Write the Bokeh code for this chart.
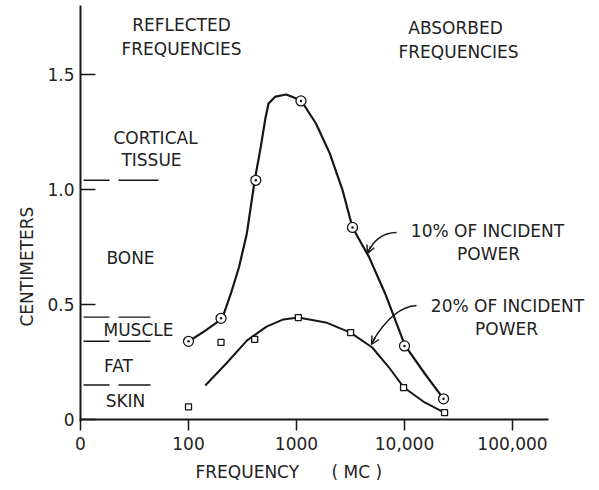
import numpy as np
from bokeh.plotting import figure
from bokeh.models import (Range1d, FixedTicker, CustomJSTickFormatter, Label,
                          Arrow, OpenHead, Title)
from bokeh.embed import file_html
from bokeh.resources import INLINE

# ---------------- data ----------------
# 10 % of incident power: measured points (circles) and drawn curve
freq_10_pts = [100, 200, 420, 1100, 3300, 10000, 23000]
cm_10_pts = [0.34, 0.44, 1.04, 1.385, 0.835, 0.32, 0.09]
freq_10_curve = [100, 140, 205, 247, 293, 347, 410, 466, 517, 551, 639, 805,
                 1104, 1514, 2033, 2674, 3300, 4722, 6617, 10090, 15380, 22900]
cm_10_curve = [0.339, 0.383, 0.439, 0.548, 0.661, 0.809, 1.039, 1.183, 1.313,
               1.374, 1.404, 1.413, 1.387, 1.287, 1.157, 0.996, 0.835, 0.704,
               0.548, 0.322, 0.200, 0.091]

# 20 % of incident power: measured points (squares) and drawn curve
freq_20_pts = [100, 200, 410, 1040, 3170, 9800, 23500]
cm_20_pts = [0.055, 0.335, 0.348, 0.443, 0.378, 0.139, 0.03]
freq_20_curve = [143, 228, 347, 528, 756, 1038, 1870, 3163, 5030, 7200, 9880,
                 15380, 23400]
cm_20_curve = [0.148, 0.248, 0.343, 0.404, 0.435, 0.443, 0.422, 0.378, 0.313,
               0.226, 0.139, 0.074, 0.03]

# tissue boundary levels (cm)
boundary_levels = [1.04, 0.445, 0.34, 0.15]

x_tick_values = [10, 100, 1000, 10000, 100000]
x_tick_labels = ["0", "100", "1000", "10,000", "100,000"]
y_tick_values = [0, 0.5, 1.0, 1.5]
y_tick_labels = ["0", "0.5", "1.0", "1.5"]

# ---------------- layout helpers (pixel -> data) ----------------
def X(px):
    return 10 ** (1 + (px - 80) / 108.0)

def Y(py):
    return (419 - py) / 230.0

INK = "#161616"
TXT = "#222222"
FONT = "DejaVu Sans"
FS = "17px"
NB = "\u00a0"

W, H = 591, 488
p = figure(width=W, height=H, x_axis_type="log",
           x_range=Range1d(X(80), X(W)), y_range=Range1d(Y(421), Y(5)),
           output_backend="svg", toolbar_location=None,
           min_border_left=80, min_border_right=0,
           min_border_top=5, min_border_bottom=H - 421)
p.outline_line_color = None
p.grid.visible = False
p.background_fill_color = "white"

JS = ("const i = vals.findIndex(v => Math.abs(v - tick) < 1e-6 * Math.max(1, Math.abs(v)));"
      " return i >= 0 ? labs[i] : '';")

for ax in (p.xaxis[0], p.yaxis[0]):
    ax.axis_line_width = 2
    ax.axis_line_color = INK
    ax.major_tick_line_width = 1.5
    ax.major_tick_line_color = INK
    ax.minor_tick_line_color = None
    ax.major_label_text_font = FONT
    ax.major_label_text_font_size = FS
    ax.major_label_text_color = TXT

p.xaxis.ticker = FixedTicker(ticks=x_tick_values, minor_ticks=[])
p.xaxis.formatter = CustomJSTickFormatter(
    args=dict(vals=x_tick_values, labs=x_tick_labels), code=JS)
p.xaxis.axis_line_color = None          # the drawn axis line stops at 548 px
p.xaxis.major_tick_in = 2
p.xaxis.major_tick_out = 9
p.xaxis.major_label_standoff = 6

p.yaxis.ticker = FixedTicker(ticks=y_tick_values, minor_ticks=[])
p.yaxis.formatter = CustomJSTickFormatter(
    args=dict(vals=y_tick_values, labs=y_tick_labels), code=JS)
p.yaxis.major_tick_in = 15
p.yaxis.major_tick_out = 0
p.yaxis.major_label_standoff = 6

# x axis line (ends short of the frame's right edge, as in the original)
p.segment(x0=[X(80)], y0=[0], x1=[X(548)], y1=[0], line_color=INK, line_width=2)

# axis titles
p.add_layout(Title(text="FREQUENCY" + NB * 6 + "(" + NB + "MC" + NB + ")",
                   align="left", offset=115,
                   text_font=FONT, text_font_size=FS, text_font_style="normal",
                   text_color=TXT, standoff=14), "below")
p.add_layout(Title(text="CENTIMETERS", align="left", offset=95,
                   text_font=FONT, text_font_size=FS, text_font_style="normal",
                   text_color=TXT, standoff=15), "left")

# tissue boundary dashes
for lvl in boundary_levels:
    right_end = 158 if lvl > 1 else 150
    p.segment(x0=[X(83), X(118)], y0=[lvl, lvl], x1=[X(109), X(right_end)],
              y1=[lvl, lvl], line_color=INK, line_width=1.4)

# curves
p.line(freq_10_curve, cm_10_curve, line_color=INK, line_width=2.2, line_join="round")
p.line(freq_20_curve, cm_20_curve, line_color=INK, line_width=2.0, line_join="round")

# points
p.scatter(freq_10_pts, cm_10_pts, marker="circle_dot", size=10, fill_color="white",
          line_color=INK, line_width=1.3)
p.scatter(freq_20_pts, cm_20_pts, marker="square", size=6, fill_color="white",
          line_color=INK, line_width=1.3)

# pointer arrows
p.bezier(x0=[X(396), X(416)], y0=[Y(232), Y(305)],
         x1=[X(368), X(372)], y1=[Y(251), Y(341)],
         cx0=[X(381), X(396)], cy0=[Y(232), Y(306)],
         cx1=[X(372), X(381)], cy1=[Y(242), Y(326)],
         line_color=INK, line_width=1.4)
p.add_layout(Arrow(end=OpenHead(size=8, line_width=1.4, line_color=INK),
                   x_start=X(370), y_start=Y(246), x_end=X(367), y_end=Y(253),
                   line_width=1.4, line_color=INK))
p.add_layout(Arrow(end=OpenHead(size=8, line_width=1.4, line_color=INK),
                   x_start=X(375), y_start=Y(337), x_end=X(371), y_end=Y(344),
                   line_width=1.4, line_color=INK))

# texts inside the plotting area
def lab(text, px, py):
    p.add_layout(Label(x=X(px), y=Y(py), text=text, text_align="center",
                       text_baseline="middle", text_font=FONT,
                       text_font_size=FS, text_color=TXT))

lab("REFLECTED", 181, 24)
lab("FREQUENCIES", 181, 48)
lab("ABSORBED", 455, 27)
lab("FREQUENCIES", 458, 51)
lab("CORTICAL", 155, 137)
lab("TISSUE", 151, 159)
lab("BONE", 130, 257)
lab("MUSCLE", 138, 329)
lab("FAT", 118, 365)
lab("SKIN", 125, 400)
lab("10% OF INCIDENT", 487, 230)
lab("POWER", 488, 253)
lab("20% OF INCIDENT", 507, 305)
lab("POWER", 506, 328)

open("out.html", "w").write(file_html(p, INLINE))
